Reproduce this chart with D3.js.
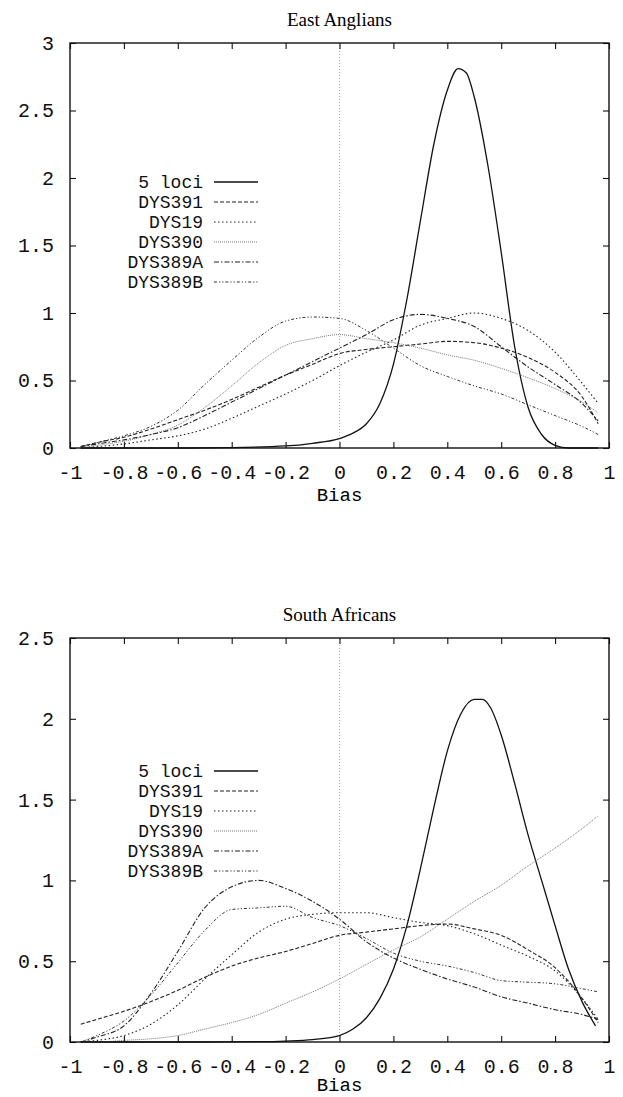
<!DOCTYPE html>
<html>

<head>
  <meta charset="utf-8">
  <title>Bias densities</title>
  <script src="https://d3js.org/d3.v7.min.js"></script>
  <style>
    body { margin: 0; background: #fff; }
  </style>
</head>

<body>
  <script>
    // data
    var seriesNames = ["5 loci", "DYS391", "DYS19", "DYS390", "DYS389A", "DYS389B"];
    var xTicks = [-1, -0.8, -0.6, -0.4, -0.2, 0, 0.2, 0.4, 0.6, 0.8, 1];
    var yTicksEA = [0, 0.5, 1, 1.5, 2, 2.5, 3];
    var yTicksSA = [0, 0.5, 1, 1.5, 2, 2.5];

    // common x grid for the broad curves
    var gridX = [-0.96, -0.9, -0.8, -0.7, -0.6, -0.5, -0.4, -0.3, -0.2, -0.1, 0,
                 0.1, 0.2, 0.3, 0.4, 0.5, 0.6, 0.7, 0.8, 0.9, 0.96];

    // East Anglians
    var eaLoci = [[-0.96, 0], [-0.6, 0], [-0.4, 0.003], [-0.2, 0.015], [-0.1, 0.035], [0, 0.07],
                  [0.05, 0.11], [0.1, 0.18], [0.15, 0.33], [0.2, 0.62], [0.25, 1.1], [0.3, 1.68],
                  [0.35, 2.25], [0.4, 2.65], [0.44, 2.81], [0.47, 2.78], [0.5, 2.6], [0.55, 2.1],
                  [0.6, 1.45], [0.65, 0.75], [0.7, 0.3], [0.75, 0.1], [0.8, 0.02], [0.85, 0], [0.96, 0]];
    var eaDYS391 = [0.01, 0.04, 0.08, 0.14, 0.21, 0.28, 0.36, 0.45, 0.54, 0.62, 0.70,
                    0.73, 0.75, 0.77, 0.79, 0.78, 0.74, 0.67, 0.56, 0.38, 0.18];
    var eaDYS19 = [0.0, 0.01, 0.03, 0.06, 0.09, 0.14, 0.22, 0.31, 0.40, 0.50, 0.61,
                   0.71, 0.80, 0.91, 0.96, 1.0, 0.96, 0.87, 0.71, 0.48, 0.33];
    var eaDYS390 = [0.0, 0.02, 0.05, 0.10, 0.17, 0.30, 0.46, 0.63, 0.76, 0.81, 0.84,
                    0.81, 0.78, 0.74, 0.69, 0.65, 0.59, 0.52, 0.44, 0.34, 0.26];
    var eaDYS389A = [0.01, 0.03, 0.06, 0.10, 0.15, 0.24, 0.34, 0.44, 0.54, 0.64, 0.74,
                     0.84, 0.95, 0.99, 0.96, 0.90, 0.75, 0.60, 0.47, 0.33, 0.20];
    var eaDYS389B = [0.01, 0.04, 0.09, 0.16, 0.28, 0.47, 0.65, 0.82, 0.94, 0.97, 0.96,
                     0.87, 0.74, 0.61, 0.53, 0.46, 0.40, 0.32, 0.24, 0.16, 0.10];

    // South Africans
    var saLoci = [[-0.96, 0], [-0.5, 0], [-0.3, 0.002], [-0.2, 0.006], [-0.1, 0.015], [0, 0.04],
                  [0.05, 0.08], [0.1, 0.15], [0.15, 0.27], [0.2, 0.45], [0.25, 0.72], [0.3, 1.07],
                  [0.35, 1.45], [0.4, 1.8], [0.45, 2.03], [0.5, 2.12], [0.53, 2.12], [0.56, 2.07],
                  [0.6, 1.9], [0.65, 1.6], [0.7, 1.28], [0.75, 1.0], [0.8, 0.72], [0.85, 0.45],
                  [0.9, 0.25], [0.95, 0.1]];
    var saDYS391 = [0.11, 0.14, 0.19, 0.25, 0.32, 0.40, 0.47, 0.52, 0.56, 0.61, 0.66,
                    0.68, 0.70, 0.72, 0.73, 0.70, 0.66, 0.57, 0.46, 0.27, 0.12];
    var saDYS19 = [0.0, 0.01, 0.04, 0.11, 0.23, 0.39, 0.54, 0.68, 0.76, 0.79, 0.80,
                   0.80, 0.77, 0.74, 0.72, 0.67, 0.60, 0.53, 0.44, 0.27, 0.14];
    var saDYS390 = [0.0, 0.0, 0.01, 0.02, 0.04, 0.08, 0.12, 0.17, 0.24, 0.31, 0.39,
                    0.48, 0.57, 0.65, 0.76, 0.87, 0.97, 1.09, 1.20, 1.32, 1.40];
    var saDYS389A = [0.0, 0.03, 0.10, 0.30, 0.56, 0.83, 0.96, 1.0, 0.95, 0.87, 0.76,
                     0.62, 0.52, 0.45, 0.39, 0.34, 0.28, 0.24, 0.20, 0.17, 0.14];
    var saDYS389B = [0.0, 0.04, 0.13, 0.29, 0.49, 0.69, 0.82, 0.83, 0.84, 0.77, 0.72,
                     0.64, 0.55, 0.50, 0.47, 0.43, 0.38, 0.37, 0.36, 0.33, 0.31];

    // line looks, in legend order
    var styles = {
      "5 loci":  { dash: null, color: "#111", w: 1.3 },
      "DYS391":  { dash: "4,2", color: "#222", w: 1.1 },
      "DYS19":   { dash: "1.5,2.5", color: "#222", w: 1.1 },
      "DYS390":  { dash: "1,1", color: "#777", w: 1.0 },
      "DYS389A": { dash: "5,2,1.5,2", color: "#222", w: 1.1 },
      "DYS389B": { dash: "3,2,1.2,2,1.2,2", color: "#333", w: 1.0 }
    };

    var width = 623, height = 1097;
    var left = 70, right = 609;
    var mono = "'Liberation Mono', 'DejaVu Sans Mono', monospace";
    var serif = "'Liberation Serif', 'DejaVu Serif', serif";

    var svg = d3.select("body").append("svg").attr("width", width).attr("height", height);

    function onGrid(vals) { return gridX.map((x, i) => [x, vals[i]]); }

    function panel(p) {
      var x = d3.scaleLinear().domain([-1, 1]).range([left, right]);
      var y = d3.scaleLinear().domain([0, p.yMax]).range([p.bottom, p.top]);
      var g = svg.append("g");

      // title
      g.append("text")
        .attr("x", (left + right) / 2).attr("y", p.top - 17)
        .attr("text-anchor", "middle")
        .attr("font-family", serif).attr("font-size", 19)
        .text(p.title);

      // zero axis
      g.append("line")
        .attr("x1", x(0)).attr("x2", x(0)).attr("y1", y(0)).attr("y2", y(p.yMax))
        .attr("stroke", "#999").attr("stroke-width", 0.8).attr("stroke-dasharray", "1,2");

      var fmt = d => String(+d.toFixed(1));

      // axes with inward ticks, mirrored on top and right
      var ax = [
        g.append("g").attr("transform", "translate(0," + p.bottom + ")")
          .call(d3.axisBottom(x).tickValues(xTicks).tickSizeInner(-6).tickSizeOuter(0).tickPadding(17).tickFormat(fmt)),
        g.append("g").attr("transform", "translate(0," + p.top + ")")
          .call(d3.axisTop(x).tickValues(xTicks).tickSizeInner(-6).tickSizeOuter(0).tickFormat("")),
        g.append("g").attr("transform", "translate(" + left + ",0)")
          .call(d3.axisLeft(y).tickValues(p.yTicks).tickSizeInner(-6).tickSizeOuter(0).tickPadding(16).tickFormat(fmt)),
        g.append("g").attr("transform", "translate(" + right + ",0)")
          .call(d3.axisRight(y).tickValues(p.yTicks).tickSizeInner(-6).tickSizeOuter(0).tickFormat(""))
      ];
      ax.forEach(a => {
        a.select(".domain").remove();
        a.attr("font-family", mono).attr("font-size", 20);
        a.selectAll("line").attr("stroke", "#111").attr("stroke-width", 1.1);
        a.selectAll("text").attr("fill", "#111");
      });

      // x label
      g.append("text")
        .attr("x", (left + right) / 2).attr("y", p.bottom + p.labelGap)
        .attr("text-anchor", "middle")
        .attr("font-family", mono).attr("font-size", 19)
        .text("Bias");

      // curves
      var line = d3.line().x(d => x(d[0])).y(d => y(d[1])).curve(d3.curveMonotoneX);
      p.series.forEach((s, i) => {
        var st = styles[seriesNames[i]];
        g.append("path")
          .attr("d", line(s))
          .attr("fill", "none")
          .attr("stroke", st.color)
          .attr("stroke-width", st.w)
          .attr("stroke-dasharray", st.dash);
      });

      // frame
      g.append("rect")
        .attr("x", left).attr("y", p.top)
        .attr("width", right - left).attr("height", p.bottom - p.top)
        .attr("fill", "none").attr("stroke", "#111").attr("stroke-width", 1.4);

      // legend
      seriesNames.forEach((name, i) => {
        var st = styles[name];
        var ly = p.legendTop + i * 20;
        g.append("text")
          .attr("x", 203).attr("y", ly)
          .attr("dy", "0.35em")
          .attr("text-anchor", "end")
          .attr("font-family", mono).attr("font-size", 18)
          .attr("fill", "#111")
          .text(name);
        g.append("line")
          .attr("x1", 214).attr("x2", 258).attr("y1", ly).attr("y2", ly)
          .attr("stroke", st.color).attr("stroke-width", st.w)
          .attr("stroke-dasharray", st.dash);
      });
    }

    panel({
      title: "East Anglians", top: 43, bottom: 448, yMax: 3, yTicks: yTicksEA,
      legendTop: 182, labelGap: 53,
      series: [eaLoci, onGrid(eaDYS391), onGrid(eaDYS19), onGrid(eaDYS390), onGrid(eaDYS389A), onGrid(eaDYS389B)]
    });

    panel({
      title: "South Africans", top: 638, bottom: 1042, yMax: 2.5, yTicks: yTicksSA,
      legendTop: 771, labelGap: 49,
      series: [saLoci, onGrid(saDYS391), onGrid(saDYS19), onGrid(saDYS390), onGrid(saDYS389A), onGrid(saDYS389B)]
    });
  </script>
</body>

</html>
